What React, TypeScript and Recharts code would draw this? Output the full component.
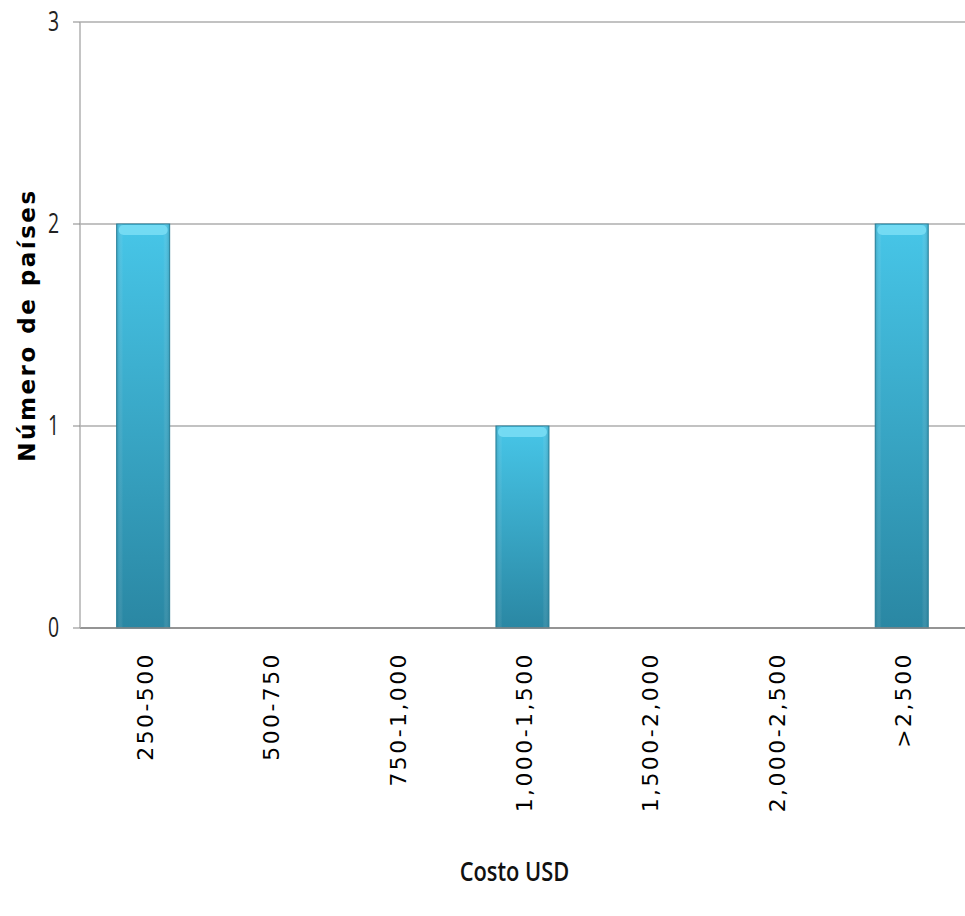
import React from "react";
import { BarChart, Bar, XAxis, YAxis, CartesianGrid } from "recharts";

const categories = ["250-500", "500-750", "750-1,000", "1,000-1,500", "1,500-2,000", "2,000-2,500", ">2,500"];
const counts = [2, 0, 0, 1, 0, 0, 2];
const yTicks = [0, 1, 2, 3];

const data = categories.map((c, i) => ({ name: c, value: counts[i] }));

const BarShape = (props: any) => {
  const { x, y, width, height } = props;
  if (!height || height <= 0) return null;
  return (
    <g>
      <rect x={x} y={y} width={width} height={height} fill="url(#barGrad)" stroke="#2b8099" strokeWidth={1} />
      <rect x={x} y={y} width={width} height={height} fill="url(#barSide)" />
      <rect x={x + 2} y={y + 1} width={width - 4} height={10} rx={5} fill="#7ee0f6" opacity={0.8} />
    </g>
  );
};

const XTick = (props: any) => {
  const { x, y, payload } = props;
  return (
    <text
      x={x}
      y={y}
      transform={`rotate(-90, ${x}, ${y})`}
      textAnchor="end"
      dominantBaseline="central"
      fontFamily="DejaVu Sans"
      fontSize={22}
      letterSpacing={2.4}
      fill="#000"
      dx={-16}
      dy={2}
    >
      {payload.value}
    </text>
  );
};

const YTick = (props: any) => {
  const { x, y, payload } = props;
  return (
    <text
      x={0}
      y={0}
      transform={`translate(${x - 2}, ${y + 9}) scale(0.72, 1)`}
      textAnchor="end"
      fontFamily="Open Sans"
      fontSize={27}
      fill="#222"
    >
      {payload.value}
    </text>
  );
};

const XTitle = (props: any) => {
  const { viewBox } = props;
  const cx = viewBox.x + viewBox.width / 2 - 8;
  const cy = 881;
  return (
    <text x={0} y={0} transform={`translate(${cx}, ${cy}) scale(0.95, 1.15)`} textAnchor="middle" fontFamily="Open Sans" fontWeight={600} fontSize={23} fill="#111">
      Costo USD
    </text>
  );
};

export default function App() {
  return (
    <div style={{ position: "absolute", left: 0, top: 0, background: "#fff" }}>
      <BarChart width={965} height={916} data={data} margin={{ top: 22, right: 0, left: 0, bottom: 0 }} barCategoryGap="29%">
        <defs>
          <linearGradient id="barGrad" x1="0" y1="0" x2="0" y2="1">
            <stop offset="0%" stopColor="#47c6e8" />
            <stop offset="100%" stopColor="#2a87a3" />
          </linearGradient>
          <linearGradient id="barSide" x1="0" y1="0" x2="1" y2="0">
            <stop offset="0%" stopColor="#1d6f88" stopOpacity={0.35} />
            <stop offset="12%" stopColor="#ffffff" stopOpacity={0} />
            <stop offset="88%" stopColor="#ffffff" stopOpacity={0} />
            <stop offset="100%" stopColor="#1d6f88" stopOpacity={0.35} />
          </linearGradient>
        </defs>
        <CartesianGrid vertical={false} stroke="#858585" strokeWidth={1.2} />
        <XAxis
          dataKey="name"
          height={288}
          interval={0}
          tickLine={false}
          axisLine={{ stroke: "#858585", strokeWidth: 1.5 }}
          tick={<XTick />}
          label={<XTitle />}
        />
        <YAxis
          width={80}
          domain={[0, 3]}
          ticks={yTicks}
          tickLine={{ stroke: "#858585" }}
          tickSize={7}
          axisLine={{ stroke: "#b0b0b0", strokeWidth: 1.5 }}
          tick={<YTick />}
          tickMargin={12}
          label={{ value: "Número de países", angle: -90, position: "insideLeft", offset: 27, style: { textAnchor: "middle" }, fontFamily: "DejaVu Sans", fontWeight: "bold", fontSize: 23, letterSpacing: 2.5, fill: "#000" }}
        />
        <Bar dataKey="value" shape={<BarShape />} isAnimationActive={false} />
      </BarChart>
    </div>
  );
}
